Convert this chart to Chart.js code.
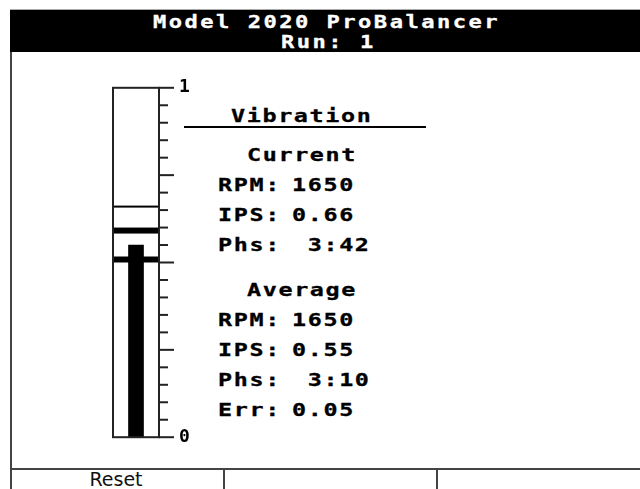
<!DOCTYPE html>
<html lang="en">
<head>
    <meta charset="UTF-8">
    <title>Model 2020 ProBalancer</title>
    <script src="https://cdn.jsdelivr.net/npm/chart.js"></script>
    <style>
        body {
            margin: 0;
            width: 640px;
            height: 489px;
            background: #fff;
            overflow: hidden;
            position: relative;
            font-family: "DejaVu Sans Mono", monospace;
            font-weight: bold;
            font-size: 18px;
        }

        .abs { position: absolute; }

        #header {
            left: 10px; top: 9px; width: 630px; height: 42px;
            background: #000;
            border-top: 1px solid #aaa;
        }

        .txt {
            position: absolute;
            line-height: 20px;
            letter-spacing: 1.25px;
            white-space: pre;
            color: #000;
            transform: scaleX(1.3);
            transform-origin: 0 0;
            -webkit-text-stroke: 0.3px #000;
        }

        #header .txt {
            font-size: 17px;
            letter-spacing: 1.9px;
            line-height: 18px;
            color: #fff;
            -webkit-text-stroke: 0.3px #fff;
        }

        .frame { background: #444; }

        #reset {
            font-family: "DejaVu Sans", sans-serif;
            font-weight: normal;
            font-size: 19px;
            line-height: 19px;
            color: #111;
            text-align: center;
            left: 12px; width: 208px; top: 470px;
        }

        #gauge { left: 100px; top: 57px; }
    </style>
</head>
<body>
    <div id="header" class="abs">
        <div class="txt" style="left: 143px; top: 3px">Model 2020 ProBalancer</div>
        <div class="txt" style="left: 271px; top: 23px">Run: 1</div>
    </div>

    <div class="abs frame" style="left: 10px; top: 52px; width: 2px; height: 437px;"></div>
    <div class="abs frame" style="left: 10px; top: 468px; width: 630px; height: 2px;"></div>
    <div class="abs frame" style="left: 223px; top: 470px; width: 2px; height: 19px;"></div>
    <div class="abs frame" style="left: 436px; top: 470px; width: 2px; height: 19px;"></div>
    <div id="reset" class="abs">Reset</div>

    <div id="panel"></div>
    <div class="abs" style="left: 184px; top: 126px; width: 242px; height: 2px; background: #000;"></div>

    <canvas id="gauge" class="abs" width="110" height="411"></canvas>

    <script>
        // Readings shown on the screen
        var currentLabels = ['RPM:', 'IPS:', 'Phs:'];
        var currentValues = ['1650', '0.66', ' 3:42'];
        var averageLabels = ['RPM:', 'IPS:', 'Phs:', 'Err:'];
        var averageValues = ['1650', '0.55', ' 3:10', '0.05'];

        // Gauge data (IPS scale 0..1)
        var gaugeCategories = ['IPS'];
        var averageIps = [0.55];
        var currentIps = [0.66];
        var ipsError = [0.05];
        var gaugeTickLabels = ['0', '1'];

        // Build the text panel
        var panel = document.getElementById('panel');
        function addText(text, left, centerY) {
            var d = document.createElement('div');
            d.className = 'txt';
            d.textContent = text;
            d.style.left = left + 'px';
            d.style.top = (centerY - 9.7) + 'px';
            panel.appendChild(d);
        }
        addText('Vibration', 231, 116);
        addText('Current', 247, 155);
        currentLabels.forEach(function (lab, i) {
            addText(lab, 218, 185 + i * 30);
            addText(currentValues[i], 292, 185 + i * 30);
        });
        addText('Average', 247, 290);
        averageLabels.forEach(function (lab, i) {
            addText(lab, 218, 320 + i * 30);
            addText(averageValues[i], 292, 320 + i * 30);
        });

        // Box, ticks, error bands and current-value line for the gauge
        var gaugePlugin = {
            id: 'gauge',
            afterDatasetsDraw: function (chart) {
                var ctx = chart.ctx;
                var a = chart.chartArea;
                var y = chart.scales.y;
                ctx.save();
                ctx.fillStyle = '#000';
                var yHi = y.getPixelForValue(averageIps[0] + ipsError[0]);
                var yLo = y.getPixelForValue(averageIps[0] - ipsError[0]);
                ctx.fillRect(a.left, yHi, a.right - a.left, 6);
                ctx.fillRect(a.left, yLo - 6, a.right - a.left, 6);
                var yc = y.getPixelForValue(currentIps[0]);
                ctx.fillRect(a.left, yc - 1, a.right - a.left, 2);

                ctx.strokeStyle = '#222';
                ctx.lineWidth = 2;
                ctx.strokeRect(a.left, a.top, a.right - a.left, a.bottom - a.top);
                y.ticks.forEach(function (t) {
                    var py = y.getPixelForValue(t.value);
                    var major = Math.abs(t.value * 4 - Math.round(t.value * 4)) < 1e-6;
                    ctx.beginPath();
                    ctx.moveTo(a.right, py);
                    ctx.lineTo(a.right + (major ? 15 : 9), py);
                    ctx.stroke();
                });
                ctx.restore();
            }
        };

        var ctx = document.getElementById('gauge').getContext('2d');
        var gauge = new Chart(ctx, {
            type: 'bar',
            data: {
                labels: gaugeCategories,
                datasets: [{
                    data: averageIps,
                    backgroundColor: '#000',
                    barThickness: 15
                }]
            },
            options: {
                responsive: false,
                animation: false,
                layout: { padding: { left: 13, right: 11, top: 0, bottom: 0 } },
                plugins: { legend: { display: false }, tooltip: { enabled: false } },
                scales: {
                    x: { display: false },
                    y: {
                        position: 'right',
                        min: 0,
                        max: 1,
                        afterFit: function (s) { s.width = 40; },
                        grid: { display: false, drawTicks: false },
                        border: { display: false },
                        ticks: {
                            stepSize: 0.05,
                            autoSkip: false,
                            padding: 20,
                            color: '#000',
                            font: { family: 'DejaVu Sans Mono', weight: 'bold', size: 18 },
                            callback: function (v) {
                                if (Math.abs(v) < 1e-6) return gaugeTickLabels[0];
                                if (Math.abs(v - 1) < 1e-6) return gaugeTickLabels[1];
                                return '';
                            }
                        }
                    }
                }
            },
            plugins: [gaugePlugin]
        });
    </script>
</body>
</html>
